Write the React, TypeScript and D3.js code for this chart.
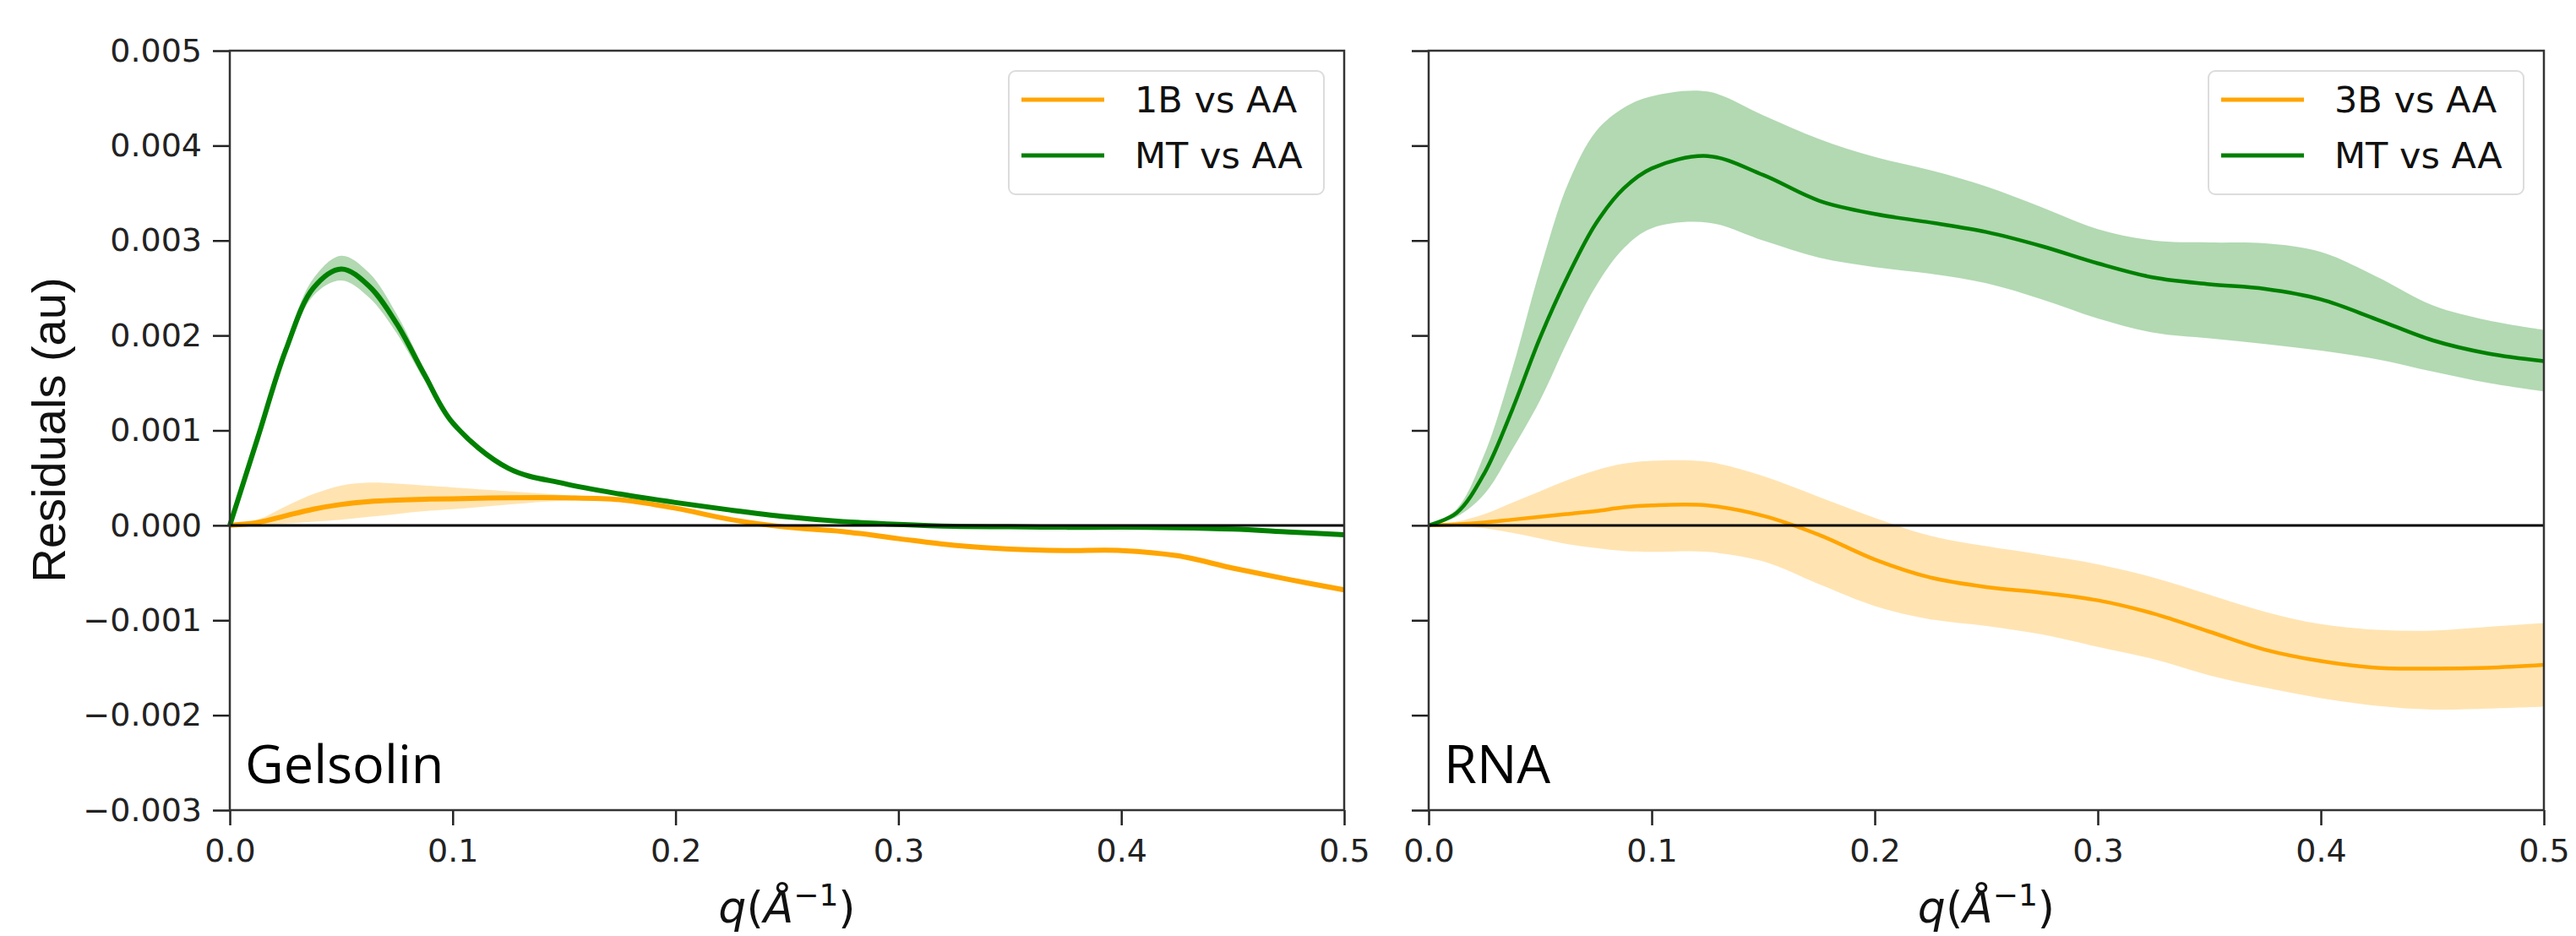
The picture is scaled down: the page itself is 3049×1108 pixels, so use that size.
import { useEffect, useRef } from "react";
import * as d3 from "d3";

// q grid shared by every series (1/Å)
const qGrid = [0, 0.0125, 0.025, 0.0375, 0.05, 0.0625, 0.075, 0.0875, 0.1, 0.125, 0.15, 0.175, 0.2,
  0.225, 0.25, 0.275, 0.3, 0.325, 0.35, 0.375, 0.4, 0.425, 0.45, 0.475, 0.5];

// residuals, in units of 1e-3
const gelMT = [0, 0.92, 1.84, 2.5, 2.7, 2.52, 2.12, 1.58, 1.08, 0.6, 0.44, 0.33, 0.24,
  0.16, 0.09, 0.04, 0.01, -0.01, -0.015, -0.02, -0.02, -0.025, -0.04, -0.07, -0.1];
const gelMTHigh = [0, 0.95, 1.9, 2.6, 2.84, 2.66, 2.22, 1.64, 1.11, 0.62, 0.46, 0.345, 0.25,
  0.17, 0.1, 0.05, 0.02, 0, -0.005, -0.01, -0.01, -0.015, -0.03, -0.06, -0.09];
const gelMTLow = [0, 0.89, 1.78, 2.42, 2.58, 2.4, 2.02, 1.52, 1.05, 0.58, 0.42, 0.315, 0.23,
  0.15, 0.08, 0.03, 0, -0.02, -0.025, -0.03, -0.03, -0.035, -0.05, -0.08, -0.11];

const gel1B = [0, 0.03, 0.1, 0.17, 0.22, 0.25, 0.265, 0.275, 0.28, 0.29, 0.29, 0.27, 0.18,
  0.06, -0.02, -0.065, -0.14, -0.21, -0.25, -0.265, -0.265, -0.32, -0.45, -0.57, -0.68];
const gel1BHigh = [0, 0.06, 0.2, 0.33, 0.42, 0.45, 0.44, 0.42, 0.4, 0.36, 0.32, 0.29, 0.2,
  0.08, 0, -0.05, -0.125, -0.195, -0.235, -0.25, -0.25, -0.3, -0.43, -0.55, -0.66];
const gel1BLow = [0, 0.01, 0.02, 0.04, 0.06, 0.09, 0.12, 0.15, 0.17, 0.22, 0.26, 0.25, 0.16,
  0.04, -0.04, -0.08, -0.155, -0.225, -0.265, -0.28, -0.28, -0.34, -0.47, -0.59, -0.7];

const rnaMT = [0, 0.13, 0.55, 1.22, 1.98, 2.63, 3.18, 3.55, 3.76, 3.89, 3.69, 3.42, 3.28,
  3.19, 3.09, 2.94, 2.76, 2.61, 2.54, 2.49, 2.38, 2.17, 1.95, 1.81, 1.73];
const rnaMTHigh = [0, 0.17, 0.75, 1.65, 2.7, 3.6, 4.15, 4.4, 4.52, 4.57, 4.32, 4.07, 3.88,
  3.74, 3.57, 3.35, 3.12, 3.0, 2.98, 2.97, 2.88, 2.62, 2.32, 2.16, 2.06];
const rnaMTLow = [0, 0.09, 0.33, 0.8, 1.32, 1.95, 2.52, 2.92, 3.13, 3.19, 3.0, 2.82, 2.72,
  2.65, 2.55, 2.38, 2.18, 2.03, 1.97, 1.91, 1.84, 1.75, 1.62, 1.5, 1.41];

const rna3B = [0, 0.01, 0.03, 0.06, 0.09, 0.12, 0.15, 0.19, 0.21, 0.21, 0.1, -0.1, -0.36,
  -0.55, -0.65, -0.71, -0.79, -0.93, -1.12, -1.31, -1.43, -1.5, -1.51, -1.5, -1.47];
const rna3BHigh = [0, 0.04, 0.12, 0.24, 0.36, 0.48, 0.58, 0.65, 0.68, 0.67, 0.52, 0.3, 0.08,
  -0.11, -0.22, -0.31, -0.41, -0.55, -0.73, -0.91, -1.04, -1.1, -1.11, -1.07, -1.03];
const rna3BLow = [0, -0.01, -0.03, -0.08, -0.14, -0.2, -0.24, -0.27, -0.28, -0.28, -0.38, -0.62, -0.85,
  -0.99, -1.06, -1.15, -1.28, -1.41, -1.58, -1.71, -1.82, -1.9, -1.94, -1.93, -1.91];

const yTicks = [-0.003, -0.002, -0.001, 0, 0.001, 0.002, 0.003, 0.004, 0.005];
const xTicks = [0, 0.1, 0.2, 0.3, 0.4, 0.5];

const ORANGE = "#ffa500";
const GREEN = "#008000";

function App() {
  const ref = useRef<SVGSVGElement>(null);

  useEffect(() => {
    draw();
    // eslint-disable-next-line
  }, []);

  function drawPanel(svg: any, opts: any) {
    const { x0, x1, name, lines, lw, showLabels } = opts;
    const top = 60, bottom = 959;
    const x = d3.scaleLinear().domain([0, 0.5]).range([x0, x1]);
    const y = d3.scaleLinear().domain([-0.003, 0.005]).range([bottom, top]);
    const curve = d3.curveCatmullRom.alpha(0.5);
    const g = svg.append("g");

    // bands then lines
    lines.forEach((s: any) => {
      const pts = qGrid.map((q, i) => ({ q, lo: s.lo[i] * 1e-3, hi: s.hi[i] * 1e-3 }));
      g.append("path")
        .datum(pts)
        .attr("fill", s.color)
        .attr("fill-opacity", 0.3)
        .attr("d", d3.area<any>().x(d => x(d.q)).y0(d => y(d.lo)).y1(d => y(d.hi)).curve(curve));
    });
    lines.forEach((s: any) => {
      const pts = qGrid.map((q, i) => ({ q, v: s.v[i] * 1e-3 }));
      g.append("path")
        .datum(pts)
        .attr("fill", "none")
        .attr("stroke", s.color)
        .attr("stroke-width", lw)
        .attr("d", d3.line<any>().x(d => x(d.q)).y(d => y(d.v)).curve(curve));
    });

    // zero line
    g.append("line")
      .attr("x1", x(0)).attr("x2", x(0.5))
      .attr("y1", y(0)).attr("y2", y(0))
      .attr("stroke", "#000").attr("stroke-width", 3);

    // axes
    const yAxis = d3.axisLeft(y).tickValues(yTicks).tickSize(20).tickSizeOuter(0).tickPadding(13)
      .tickFormat(showLabels ? (d3.format(".3f") as any) : () => "");
    const ya = g.append("g").attr("transform", `translate(${x0},0)`).call(yAxis);
    const xAxis = d3.axisBottom(x).tickValues(xTicks).tickSize(18).tickSizeOuter(0).tickPadding(16)
      .tickFormat(d3.format(".1f") as any);
    const xa = g.append("g").attr("transform", `translate(0,${bottom})`).call(xAxis);
    [ya, xa].forEach(a => {
      a.select(".domain").remove();
      a.selectAll(".tick line").attr("stroke", "#222").attr("stroke-width", 2.5);
      a.selectAll(".tick text")
        .attr("font-family", "DejaVu Sans")
        .attr("font-size", 38)
        .attr("fill", "#222");
    });

    // frame
    g.append("rect")
      .attr("x", x0).attr("y", top)
      .attr("width", x1 - x0).attr("height", bottom - top)
      .attr("fill", "none").attr("stroke", "#333").attr("stroke-width", 2.5);

    // legend
    const bw = 373, bh = 146;
    const bx = x1 - 24 - bw, by = 84;
    const lg = g.append("g");
    lg.append("rect")
      .attr("x", bx).attr("y", by).attr("width", bw).attr("height", bh)
      .attr("rx", 8).attr("fill", "#fff").attr("fill-opacity", 0.85)
      .attr("stroke", "#dcdcdc").attr("stroke-width", 2);
    lines.forEach((s: any, i: number) => {
      const ly = by + 34 + i * 66;
      lg.append("line")
        .attr("x1", bx + 15).attr("x2", bx + 113)
        .attr("y1", ly).attr("y2", ly)
        .attr("stroke", s.color).attr("stroke-width", 5);
      lg.append("text")
        .attr("x", bx + 149).attr("y", ly)
        .attr("dominant-baseline", "central")
        .attr("font-family", "DejaVu Sans")
        .attr("font-size", 43)
        .attr("fill", "#111")
        .text(s.label);
    });

    // panel name
    g.append("text")
      .attr("x", x0 + 18).attr("y", 927)
      .attr("font-family", "Open Sans")
      .attr("font-size", 63)
      .attr("fill", "#000")
      .text(name);

    // x label
    const xl = g.append("text")
      .attr("x", (x0 + x1) / 2).attr("y", 1092)
      .attr("text-anchor", "middle")
      .attr("font-family", "DejaVu Sans")
      .attr("font-size", 52)
      .attr("fill", "#111");
    xl.append("tspan").attr("font-style", "italic").text("q");
    xl.append("tspan").text("(");
    xl.append("tspan").attr("font-style", "italic").text("Å");
    xl.append("tspan").attr("dy", -20).attr("font-size", 36).text("−1");
    xl.append("tspan").attr("dy", 20).text(")");
  }

  function draw() {
    const svg = d3.select(ref.current);
    svg.selectAll("*").remove();

    drawPanel(svg, {
      x0: 272, x1: 1591, name: "Gelsolin", lw: 6, showLabels: true,
      lines: [
        { label: "1B vs AA", color: ORANGE, v: gel1B, lo: gel1BLow, hi: gel1BHigh },
        { label: "MT vs AA", color: GREEN, v: gelMT, lo: gelMTLow, hi: gelMTHigh },
      ],
    });
    drawPanel(svg, {
      x0: 1691, x1: 3011, name: "RNA", lw: 4.5, showLabels: false,
      lines: [
        { label: "3B vs AA", color: ORANGE, v: rna3B, lo: rna3BLow, hi: rna3BHigh },
        { label: "MT vs AA", color: GREEN, v: rnaMT, lo: rnaMTLow, hi: rnaMTHigh },
      ],
    });

    svg.append("text")
      .attr("transform", "translate(77,509) rotate(-90)")
      .attr("text-anchor", "middle")
      .attr("font-family", "Liberation Sans")
      .attr("font-size", 56)
      .attr("fill", "#111")
      .text("Residuals (au)");
  }

  return (
    <svg ref={ref} width={3049} height={1108}
      style={{ position: "absolute", left: 0, top: 0, background: "#fff" }}>
    </svg>
  );
}

export default App;
